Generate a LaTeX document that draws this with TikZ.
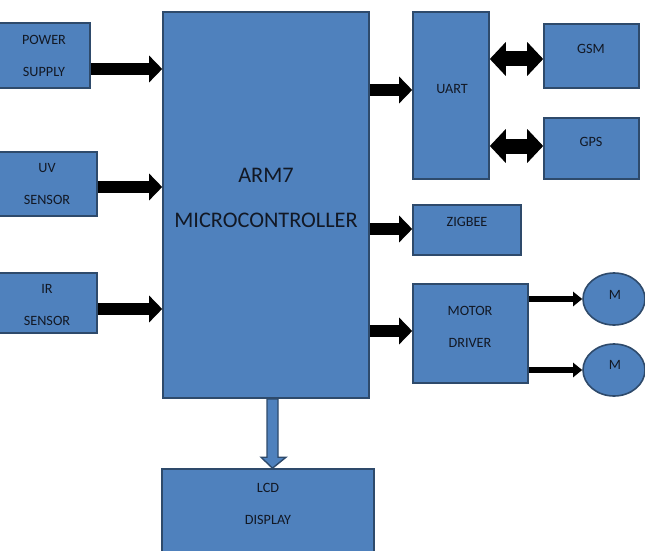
\documentclass[tikz,border=0pt]{standalone}
\usepackage{fontspec}
\setmainfont{Carlito}
\usetikzlibrary{arrows.meta,calc,shapes.geometric}
\definecolor{boxblue}{HTML}{4F81BD}
\definecolor{boxedge}{HTML}{2E4A6B}
\definecolor{txtc}{HTML}{121824}
\begin{document}
\begin{tikzpicture}[x=1pt,y=-1pt,
  box/.style={draw=boxedge, fill=boxblue, line width=1.6pt, inner sep=0pt, rectangle},
  motor/.style={draw=boxedge, fill=boxblue, line width=1.6pt, inner sep=0pt, ellipse, minimum width=62pt, minimum height=52pt},
  lbl/.style={text=txtc, align=center, inner sep=0pt, font=\fontsize{14.2}{32}\selectfont},
  biglbl/.style={text=txtc, align=center, inner sep=0pt, font=\fontsize{22.3}{45}\selectfont},
  fat/.style={line width=12pt, -{Triangle[length=13pt,width=26pt]}},
  dbl/.style={line width=15pt, {Triangle[length=16pt,width=33pt]}-{Triangle[length=16pt,width=33pt]}},
  slim/.style={line width=6pt, -{Triangle[length=9pt,width=14pt]}},
  hollow/.style={draw=boxedge, fill=boxblue, line width=1.4pt, line join=miter}
]
\useasboundingbox (0,0) rectangle (645,551);

% boxes
\node[box, minimum width=94pt, minimum height=65pt] (power) at (43,55.5) {};
\node[box, minimum width=102pt, minimum height=64pt] (uv) at (46,184) {};
\node[box, minimum width=102pt, minimum height=60pt] (ir) at (46,303) {};
\node[box, minimum width=206pt, minimum height=386pt] (arm) at (266,205) {};
\node[box, minimum width=76pt, minimum height=167pt] (uart) at (451,95.5) {};
\node[box, minimum width=95pt, minimum height=64pt] (gsm) at (591.5,56) {};
\node[box, minimum width=95pt, minimum height=61pt] (gps) at (591.5,148.5) {};
\node[box, minimum width=108pt, minimum height=50pt] (zig) at (467,230) {};
\node[box, minimum width=115pt, minimum height=99pt] (drv) at (470.5,333.5) {};
\node[box, minimum width=212pt, minimum height=100pt] (lcd) at (268,519) {};
\node[motor] (m1) at (614,299) {};
\node[motor] (m2) at (614,370) {};

% labels
\node[lbl] (tpower) at (44,56) {POWER\\SUPPLY};
\node[lbl] (tuv) at (47,183.5) {UV\\SENSOR};
\node[lbl] (tir) at (47,305) {IR\\SENSOR};
\node[biglbl] (tarm) at (266,197.5) {ARM7\\MICROCONTROLLER};
\node[lbl] (tuart) at (452,89) {UART};
\node[lbl] (tgsm) at (591,49) {GSM};
\node[lbl] (tgps) at (591,142) {GPS};
\node[lbl] (tzig) at (467,222) {ZIGBEE};
\node[lbl] (tdrv) at (470,326.5) {MOTOR\\DRIVER};
\node[lbl] (tlcd) at (268,504) {LCD\\DISPLAY};
\node[lbl] (tm1) at (615,295) {M};
\node[lbl] (tm2) at (615,365) {M};

% connectors
\draw[fat] (power.east |- 0,69) -- (arm.west |- 0,69);
\draw[fat] (uv.east |- 0,187) -- (arm.west |- 0,187);
\draw[fat] (ir.east |- 0,309) -- (arm.west |- 0,309);
\draw[fat] (arm.east |- 0,90) -- (uart.west |- 0,90);
\draw[fat] (arm.east |- 0,229) -- (zig.west |- 0,229);
\draw[fat] (arm.east |- 0,331) -- (drv.west |- 0,331);
\draw[dbl] (uart.east |- 0,59) -- (gsm.west |- 0,59);
\draw[dbl] (uart.east |- 0,146) -- (gps.west |- 0,146);
\draw[slim] (drv.east |- m1.west) -- (m1.west);
\draw[slim] (drv.east |- m2.west) -- (m2.west);
\draw[hollow] ($(arm.south)+(1,0)$) -- ($(arm.south)+(12,0)$)
  -- ($(lcd.north)+(10,-11)$) -- ($(lcd.north)+(18,-11)$)
  -- ($(lcd.north)+(4.5,0)$) -- ($(lcd.north)+(-7,-11)$)
  -- ($(lcd.north)+(-1,-11)$) -- cycle;
\end{tikzpicture}
\end{document}
